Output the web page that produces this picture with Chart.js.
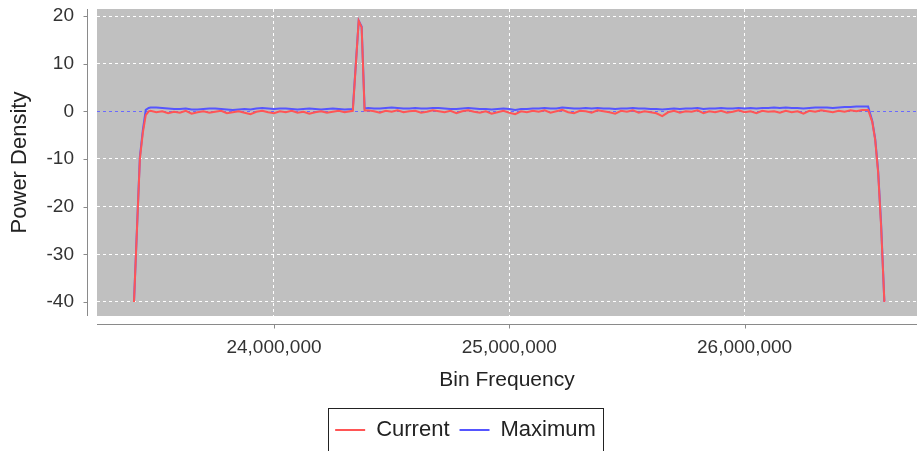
<!DOCTYPE html>
<html><head><meta charset="utf-8">
<script src="https://cdn.jsdelivr.net/npm/chart.js@4.4.1/dist/chart.umd.min.js"></script>
<style>html,body{margin:0;padding:0;background:#fff;overflow:hidden}</style>
</head><body>
<canvas id="c" width="917" height="451"></canvas>
<script>
// Bin frequencies in kHz
const freqKHz = [
  23405, 23430, 23442.5, 23455, 23467.5,
  23475, 23500, 23525, 23550, 23575, 23600, 23625, 23650, 23675, 23700,
  23725, 23750, 23775, 23800, 23825, 23850, 23875, 23900, 23925, 23950,
  23975, 24000, 24025, 24050, 24075, 24100, 24125, 24150, 24175, 24200,
  24225, 24250, 24275, 24300,
  24335, 24360, 24372.5, 24385,
  24400, 24425, 24450, 24475, 24500, 24525, 24550, 24575, 24600, 24625,
  24650, 24675, 24700, 24725, 24750, 24775, 24800, 24825, 24850, 24875,
  24900, 24925, 24950, 24975, 25000, 25025, 25050, 25075, 25100, 25125,
  25150, 25175, 25200, 25225, 25250, 25275, 25300, 25325, 25350, 25375,
  25400, 25425, 25450, 25475, 25500, 25525, 25550, 25575, 25600, 25625,
  25650, 25675, 25700, 25725, 25750, 25775, 25800, 25825, 25850, 25875,
  25900, 25925, 25950, 25975, 26000, 26025, 26050, 26075, 26100, 26125,
  26150, 26175, 26200, 26225, 26250, 26275, 26300, 26325, 26350, 26375,
  26400, 26425, 26450, 26475, 26500, 26525,
  26542.5, 26555, 26567.5, 26580, 26594
];

const currentDb = [
  -40, -10, -4.5, -0.8, 0.0,
  0.1, -0.2, 0.0, -0.4, -0.1, -0.3, 0.1, -0.5, -0.2, 0.0,
  -0.3, -0.1, 0.1, -0.4, -0.2, 0.0, -0.3, -0.6, -0.1, 0.1,
  -0.2, -0.4, 0.0, -0.2, 0.1, -0.3, -0.1, -0.5, -0.2, 0.0,
  -0.3, -0.1, 0.1, -0.2,
  0.1, 19.0, 17.6, 0.2,
  0.2, 0.0, -0.3, 0.1, -0.1, 0.2, -0.2, 0.0, 0.1, -0.3,
  -0.1, 0.2, 0.0, -0.2, 0.1, -0.4, 0.0, 0.2, -0.1, -0.3,
  0.0, -0.5, -0.2, 0.1, -0.3, -0.6, 0.0, -0.2, 0.1, -0.1,
  0.2, -0.3, 0.0, 0.3, -0.2, -0.4, 0.1, 0.0, -0.3, 0.2,
  0.0, -0.2, -0.5, 0.1, -0.1, 0.2, -0.3, 0.0, -0.2, -0.4,
  -1.0, -0.2, 0.1, -0.3, 0.0, -0.1, 0.2, -0.4, 0.0, -0.2,
  0.1, -0.3, -0.1, 0.2, -0.2, 0.0, -0.4, 0.1, -0.1, 0.0,
  -0.3, 0.1, -0.2, 0.0, -0.5, 0.1, -0.1, 0.2, 0.0, -0.2,
  0.1, -0.1, 0.2, 0.0, 0.3, 0.3,
  -2.2, -6.0, -12.8, -24, -40
];

const maximumDb = [
  -40, -9.6, -4.0, 0.3, 0.7,
  0.8, 0.8, 0.7, 0.6, 0.5, 0.5, 0.6, 0.4, 0.4, 0.5,
  0.6, 0.6, 0.5, 0.4, 0.3, 0.4, 0.5, 0.4, 0.6, 0.7,
  0.6, 0.5, 0.6, 0.6, 0.5, 0.4, 0.5, 0.6, 0.5, 0.4,
  0.5, 0.6, 0.5, 0.4,
  0.5, 19.0, 17.8, 0.6,
  0.7, 0.6, 0.6, 0.7, 0.8, 0.7, 0.6, 0.6, 0.7, 0.6,
  0.6, 0.7, 0.7, 0.6, 0.5, 0.5, 0.6, 0.7, 0.6, 0.5,
  0.5, 0.4, 0.5, 0.6, 0.5, 0.3, 0.5, 0.5, 0.6, 0.6,
  0.7, 0.6, 0.6, 0.8, 0.7, 0.6, 0.6, 0.7, 0.6, 0.7,
  0.6, 0.6, 0.5, 0.6, 0.6, 0.7, 0.6, 0.6, 0.5, 0.5,
  0.4, 0.5, 0.6, 0.5, 0.6, 0.6, 0.7, 0.5, 0.6, 0.6,
  0.7, 0.6, 0.6, 0.7, 0.6, 0.7, 0.6, 0.7, 0.7, 0.8,
  0.7, 0.8, 0.7, 0.7, 0.6, 0.7, 0.8, 0.8, 0.8, 0.7,
  0.8, 0.9, 0.9, 1.0, 1.0, 1.0,
  -2.0, -5.8, -12.5, -23.5, -40
];

const yTickValues = [-40, -30, -20, -10, 0, 10, 20];
const xTickValues = [24000000, 25000000, 26000000];
const seriesNames = ['Current', 'Maximum'];

const FONT = '"Liberation Sans", Arial, Helvetica, sans-serif';

const framePlugin = {
  id: 'frame',
  afterLayout(chart) {
    const lg = chart.legend;
    if (lg) { lg.left += 7; lg.right += 7; }
  },
  beforeDraw(chart) {
    const {ctx, chartArea: a} = chart;
    ctx.save();
    ctx.fillStyle = '#C0C0C0';
    ctx.fillRect(a.left, a.top, a.right - a.left, a.bottom - a.top);
    ctx.restore();
  },
  afterDraw(chart) {
    const {ctx, chartArea: a, scales} = chart;
    ctx.save();
    ctx.strokeStyle = '#8a8a8a';
    ctx.lineWidth = 1;
    const ax = a.left - 10 + 0.5;
    ctx.beginPath();
    ctx.moveTo(ax, a.top); ctx.lineTo(ax, a.bottom);
    scales.y.ticks.forEach(t => {
      const py = Math.round(scales.y.getPixelForValue(t.value)) + 0.5;
      ctx.moveTo(ax - 4, py); ctx.lineTo(ax, py);
    });
    const ay = a.bottom + 8 + 0.5;
    ctx.moveTo(a.left, ay); ctx.lineTo(a.right, ay);
    scales.x.ticks.forEach(t => {
      const px = Math.round(scales.x.getPixelForValue(t.value)) + 0.5;
      ctx.moveTo(px, ay); ctx.lineTo(px, ay + 4);
    });
    ctx.stroke();
    const lg = chart.legend;
    if (lg && lg.legendHitBoxes && lg.legendHitBoxes.length) {
      const hb = lg.legendHitBoxes;
      const f = hb[0], l = hb[hb.length - 1];
      const cy = f.top + f.height / 2;
      const x0 = Math.round(f.left - 7) + 0.5;
      const x1 = Math.round(l.left + l.width + 7) + 0.5;
      const y0 = Math.round(cy - 22) + 0.5;
      ctx.strokeStyle = '#222';
      ctx.strokeRect(x0, y0, x1 - x0, 80);
    }
    ctx.restore();
  }
};

const colors = ['#FF5555', '#5555FF'];
const seriesValues = [currentDb, maximumDb];

new Chart(document.getElementById('c'), {
  type: 'line',
  data: {
    datasets: seriesNames.map((name, k) => ({
      label: name,
      data: freqKHz.map((f, i) => ({x: f * 1000, y: seriesValues[k][i]})),
      borderColor: colors[k],
      backgroundColor: colors[k],
      borderWidth: 2,
      pointRadius: 0,
      tension: 0,
      fill: false
    }))
  },
  options: {
    responsive: false,
    animation: false,
    events: [],
    layout: {padding: {top: 9, left: 0, right: 0, bottom: 0}},
    plugins: {
      tooltip: {enabled: false},
      legend: {
        position: 'bottom',
        labels: {
          usePointStyle: true,
          pointStyle: 'line',
          pointStyleWidth: 30,
          boxHeight: 22,
          padding: 10,
          color: '#222',
          font: {family: FONT, size: 22}
        }
      }
    },
    scales: {
      x: {
        type: 'linear',
        min: 23247770,
        max: 26732680,
        afterBuildTicks: s => { s.ticks = xTickValues.map(v => ({value: v})); },
        afterFit: s => {
          const lh = (s.chart.legend && s.chart.legend.height) || 42;
          s.height = 135 - lh;
          s.paddingLeft = 0; s.paddingRight = 0;
        },
        grid: {color: '#FFFFFF', lineWidth: 1, drawTicks: false},
        border: {display: false, dash: [3, 3]},
        ticks: {
          padding: 20,
          color: '#333',
          font: {family: FONT, size: 19},
          maxRotation: 0,
          callback: v => Number(v).toLocaleString('en-US')
        },
        title: {
          display: true, text: 'Bin Frequency', color: '#222',
          font: {family: FONT, size: 21},
          padding: {top: 0, bottom: 16}
        }
      },
      y: {
        min: -42.94,
        max: 21.47,
        afterBuildTicks: s => { s.ticks = yTickValues.map(v => ({value: v})); },
        afterFit: s => { s.width = 97; s.paddingTop = 0; s.paddingBottom = 0; },
        grid: {
          color: c => (c.tick && c.tick.value === 0) ? '#6A6AFF' : '#FFFFFF',
          lineWidth: 1, drawTicks: false
        },
        border: {display: false, dash: [3, 3]},
        ticks: {padding: 23, color: '#333', font: {family: FONT, size: 19}},
        title: {
          display: true, text: 'Power Density', color: '#222',
          font: {family: FONT, size: 22},
          padding: {top: 7, bottom: 0}
        }
      }
    }
  },
  plugins: [framePlugin]
});
</script>
</body></html>
